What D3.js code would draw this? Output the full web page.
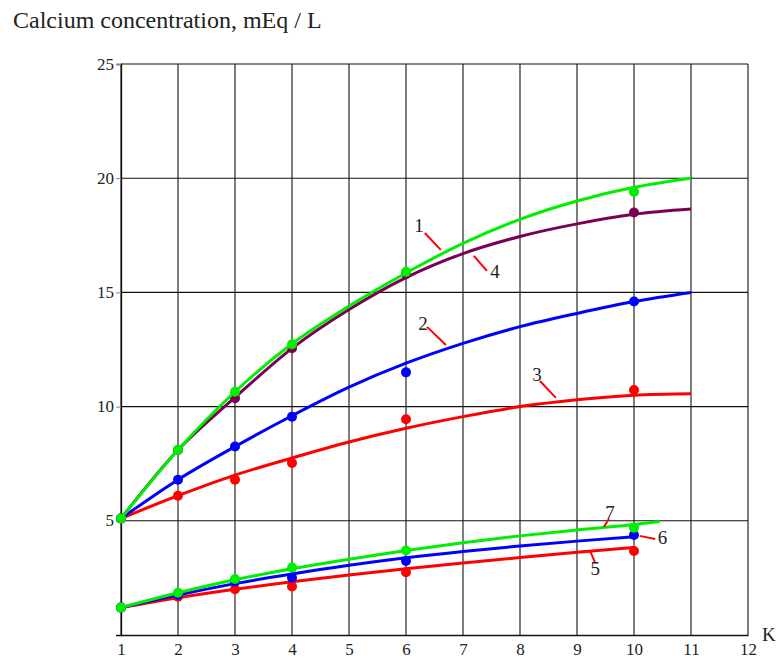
<!DOCTYPE html>
<html>
<head>
<meta charset="utf-8">
<script src="https://cdn.jsdelivr.net/npm/d3@7"></script>
<style>
  body { margin: 0; background: #fff; }
  text { font-family: "Liberation Serif", "Times New Roman", serif; }
</style>
</head>
<body>
<div id="chart"></div>
<script>
// data
const xTicks = [1, 2, 3, 4, 5, 6, 7, 8, 9, 10, 11, 12];
const yTicks = [5, 10, 15, 20, 25];

const upperX = [1, 2, 3, 4, 5, 6, 7, 8, 9, 10, 11];
const curve1 = [5.1, 8.1, 10.65, 12.75, 14.4, 15.85, 17.15, 18.2, 19.0, 19.6, 20.0];
const curve4 = [5.1, 8.1, 10.4, 12.55, 14.25, 15.65, 16.7, 17.45, 18.0, 18.42, 18.65];
const curve2 = [5.1, 6.8, 8.25, 9.6, 10.85, 11.9, 12.77, 13.5, 14.08, 14.6, 15.0];
const curve3 = [5.1, 6.1, 7.0, 7.75, 8.45, 9.05, 9.56, 10.0, 10.3, 10.5, 10.56];

const lowerX7 = [1, 2, 3, 4, 5, 6, 7, 8, 9, 10, 10.45];
const lowerX = [1, 2, 3, 4, 5, 6, 7, 8, 9, 10];
const curve7 = [1.2, 1.85, 2.42, 2.9, 3.32, 3.7, 4.04, 4.34, 4.6, 4.84, 4.97];
const curve6 = [1.2, 1.75, 2.25, 2.67, 3.05, 3.38, 3.66, 3.9, 4.11, 4.3];
const curve5 = [1.2, 1.63, 2.0, 2.33, 2.63, 2.9, 3.15, 3.39, 3.62, 3.83];

const pointX = [1, 2, 3, 4, 6, 10];
const points1 = [5.1, 8.1, 10.65, 12.73, 15.9, 19.4];
const points4 = [5.1, 8.1, 10.37, 12.56, 15.8, 18.5];
const points2 = [5.1, 6.8, 8.25, 9.56, 11.5, 14.6];
const points3 = [5.1, 6.1, 6.8, 7.53, 9.45, 10.73];
const points7 = [1.2, 1.85, 2.45, 2.95, 3.7, 4.7];
const points6 = [1.2, 1.75, 2.33, 2.51, 3.24, 4.38];
const points5 = [1.2, 1.68, 2.0, 2.12, 2.75, 3.68];

// curve labels: text position and leader line, in data units
const labels = [
  { name: "1", x: 6.23, y: 17.95, lx1: 6.33, ly1: 17.6, lx2: 6.61, ly2: 16.86 },
  { name: "4", x: 7.56, y: 15.9, lx1: 7.19, ly1: 16.6, lx2: 7.42, ly2: 15.94 },
  { name: "2", x: 6.3, y: 13.66, lx1: 6.37, ly1: 13.49, lx2: 6.7, ly2: 12.7 },
  { name: "3", x: 8.3, y: 11.43, lx1: 8.35, ly1: 11.12, lx2: 8.63, ly2: 10.38 },
  { name: "7", x: 9.58, y: 5.39, lx1: 9.56, ly1: 5.08, lx2: 9.47, ly2: 4.73 },
  { name: "6", x: 10.5, y: 4.29, lx1: 10.1, ly1: 4.34, lx2: 10.37, ly2: 4.2 },
  { name: "5", x: 9.32, y: 2.93, lx1: 9.23, ly1: 3.68, lx2: 9.32, ly2: 3.15 }
];

const series = [
  { xs: upperX, ys: curve3, px: pointX, py: points3, color: "#ff0000" },
  { xs: upperX, ys: curve2, px: pointX, py: points2, color: "#0000ff" },
  { xs: upperX, ys: curve4, px: pointX, py: points4, color: "#7a0055" },
  { xs: upperX, ys: curve1, px: pointX, py: points1, color: "#00ee00" },
  { xs: lowerX, ys: curve5, px: pointX, py: points5, color: "#ff0000" },
  { xs: lowerX, ys: curve6, px: pointX, py: points6, color: "#0000ff" },
  { xs: lowerX7, ys: curve7, px: pointX, py: points7, color: "#00ee00" }
];

const margin = { top: 64, right: 35, bottom: 29, left: 121 },
  width = 783 - margin.left - margin.right,
  height = 664 - margin.top - margin.bottom;

const svg = d3.select("#chart")
  .append("svg")
  .attr("width", 783)
  .attr("height", 664);

svg.append("text")
  .attr("x", 13)
  .attr("y", 28)
  .attr("font-size", 24)
  .attr("fill", "#222")
  .text("Calcium concentration, mEq / L");

const group = svg.append("g")
  .attr("transform", `translate(${margin.left},${margin.top})`);

const xScale = d3.scaleLinear().domain([1, 12]).range([0, width]);
const yScale = d3.scaleLinear().domain([0, 25]).range([height, 0]);

// grid
group.append("g")
  .selectAll("line")
  .data(xTicks)
  .join("line")
  .attr("x1", d => xScale(d))
  .attr("x2", d => xScale(d))
  .attr("y1", 0)
  .attr("y2", height)
  .attr("stroke", "#111")
  .attr("stroke-width", 1.1);

group.append("g")
  .selectAll("line")
  .data(yTicks)
  .join("line")
  .attr("x1", 0)
  .attr("x2", width)
  .attr("y1", d => yScale(d))
  .attr("y2", d => yScale(d))
  .attr("stroke", "#111")
  .attr("stroke-width", 1.1);

// axes
const xAxis = d3.axisBottom(xScale).tickValues(xTicks).tickSize(0).tickPadding(8);
const yAxis = d3.axisLeft(yScale).tickValues(yTicks).tickSize(5).tickPadding(2);

const xDisplay = group.append("g")
  .attr("transform", `translate(0,${height})`)
  .call(xAxis);
const yDisplay = group.append("g").call(yAxis);

[xDisplay, yDisplay].forEach(g => {
  g.attr("font-family", "Liberation Serif, serif").attr("font-size", 17);
  g.select(".domain").attr("stroke", "#111").attr("stroke-width", 1.3);
  g.selectAll(".tick line").attr("stroke", "#888");
  g.selectAll(".tick text").attr("fill", "#222");
});
yDisplay.selectAll(".tick text").attr("dy", "0.3em");

group.append("text")
  .attr("x", xScale(12) + 14)
  .attr("y", height + 6)
  .attr("font-size", 19)
  .attr("fill", "#222")
  .text("K");

// curves
const line = d3.line()
  .x(d => xScale(d[0]))
  .y(d => yScale(d[1]))
  .curve(d3.curveMonotoneX);

series.forEach(s => {
  group.append("path")
    .datum(s.xs.map((x, i) => [x, s.ys[i]]))
    .attr("d", line)
    .attr("fill", "none")
    .attr("stroke", s.color)
    .attr("stroke-width", 3);

  group.append("g")
    .selectAll("circle")
    .data(s.px.map((x, i) => [x, s.py[i]]))
    .join("circle")
    .attr("cx", d => xScale(d[0]))
    .attr("cy", d => yScale(d[1]))
    .attr("r", 5)
    .attr("fill", s.color);
});

// labels
const lab = group.append("g");
lab.selectAll("line")
  .data(labels)
  .join("line")
  .attr("x1", d => xScale(d.lx1))
  .attr("y1", d => yScale(d.ly1))
  .attr("x2", d => xScale(d.lx2))
  .attr("y2", d => yScale(d.ly2))
  .attr("stroke", "#ff0000")
  .attr("stroke-width", 2);

lab.selectAll("text")
  .data(labels)
  .join("text")
  .attr("x", d => xScale(d.x))
  .attr("y", d => yScale(d.y))
  .attr("text-anchor", "middle")
  .attr("dy", "0.35em")
  .attr("font-size", 19)
  .attr("fill", "#222")
  .text(d => d.name);
</script>
</body>
</html>
